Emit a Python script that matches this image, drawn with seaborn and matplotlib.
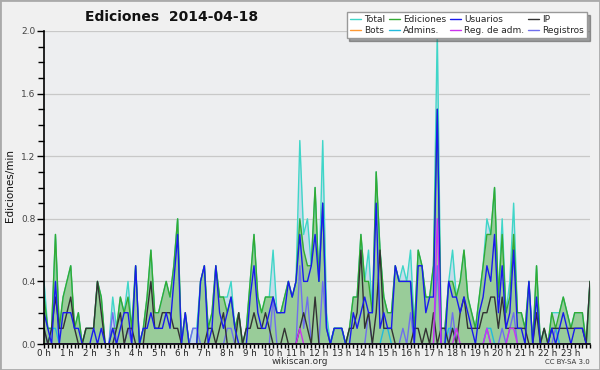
import numpy as np
import pandas as pd
import seaborn as sns
import matplotlib
matplotlib.use("Agg")
import matplotlib.pyplot as plt
from matplotlib.lines import Line2D
from matplotlib.patches import Rectangle
from matplotlib.ticker import MultipleLocator, FixedLocator, FormatStrFormatter

# edits per 10-minute bin, one row per hour (0 h ... 23 h)
total = [
    4, 1, 1, 7, 1, 3,   4, 5, 1, 2, 0, 1,   1, 1, 4, 3, 0, 0,   3, 1, 3, 2, 4, 1,
    5, 0, 1, 3, 6, 2,   2, 3, 4, 3, 5, 8,   0, 2, 0, 1, 1, 4,   5, 1, 2, 5, 3, 3,
    3, 4, 1, 2, 0, 1,   4, 7, 3, 2, 3, 3,   6, 2, 2, 3, 4, 3,   4, 13, 7, 8, 5, 10,
    4, 13, 2, 0, 1, 1,  1, 0, 1, 3, 3, 7,   4, 6, 2, 11, 6, 3,  2, 2, 5, 4, 5, 4,
    6, 1, 6, 5, 3, 3,   5, 20, 1, 1, 4, 6,  3, 4, 6, 3, 2, 1,   3, 5, 8, 7, 10, 3,
    8, 2, 4, 9, 2, 2,   1, 4, 0, 5, 0, 1,   0, 2, 2, 2, 3, 2,   1, 2, 2, 2, 0, 4,
]
ediciones = [
    3, 1, 1, 7, 1, 3,   4, 5, 1, 2, 0, 1,   1, 1, 4, 3, 0, 0,   1, 1, 3, 2, 3, 1,
    5, 0, 1, 3, 6, 2,   2, 3, 4, 3, 5, 8,   0, 2, 0, 0, 0, 4,   5, 1, 2, 5, 3, 3,
    2, 3, 1, 2, 0, 1,   4, 7, 3, 2, 3, 3,   3, 2, 2, 3, 4, 3,   4, 8, 6, 5, 5, 10,
    4, 9, 1, 0, 1, 1,   1, 0, 1, 3, 3, 7,   4, 4, 2, 11, 6, 3,  2, 2, 5, 4, 4, 4,
    4, 1, 6, 5, 3, 3,   5, 15, 1, 1, 4, 4,  3, 4, 6, 3, 2, 1,   3, 5, 7, 7, 10, 3,
    7, 2, 3, 7, 2, 2,   1, 4, 0, 5, 0, 1,   0, 2, 1, 2, 3, 2,   1, 2, 2, 2, 0, 4,
]
usuarios = [
    2, 1, 0, 4, 0, 2,   2, 2, 1, 1, 0, 0,   0, 1, 0, 1, 0, 0,   1, 0, 1, 2, 2, 0,
    5, 0, 1, 1, 2, 1,   1, 1, 2, 1, 4, 7,   0, 2, 0, 0, 0, 4,   5, 0, 1, 5, 2, 1,
    2, 3, 1, 0, 0, 0,   3, 5, 2, 1, 1, 2,   3, 2, 2, 2, 4, 3,   4, 7, 4, 4, 5, 7,
    4, 9, 1, 0, 1, 1,   1, 0, 0, 2, 1, 2,   3, 2, 2, 9, 1, 2,   1, 1, 5, 4, 4, 4,
    4, 0, 5, 5, 2, 3,   3, 15, 0, 0, 4, 3,  3, 2, 3, 2, 1, 0,   2, 3, 5, 4, 7, 2,
    5, 1, 2, 6, 1, 1,   0, 4, 0, 3, 0, 0,   0, 1, 0, 1, 2, 1,   0, 1, 1, 1, 0, 0,
]
ip = [
    1, 0, 1, 3, 1, 1,   2, 3, 1, 0, 0, 1,   1, 1, 4, 2, 0, 0,   0, 1, 2, 0, 1, 1,
    0, 0, 0, 2, 4, 1,   1, 2, 2, 2, 1, 1,   0, 0, 0, 0, 0, 0,   0, 1, 1, 0, 1, 2,
    0, 0, 0, 2, 0, 1,   1, 2, 1, 1, 2, 1,   0, 0, 0, 1, 0, 0,   0, 1, 2, 1, 0, 3,
    0, 0, 0, 0, 0, 0,   0, 0, 1, 1, 2, 6,   1, 2, 0, 2, 6, 1,   1, 1, 0, 0, 0, 0,
    0, 1, 1, 0, 1, 0,   2, 0, 1, 1, 0, 1,   0, 2, 3, 1, 1, 1,   1, 2, 2, 3, 3, 1,
    3, 1, 1, 1, 1, 1,   1, 0, 0, 2, 0, 1,   0, 1, 1, 1, 1, 1,   1, 1, 1, 1, 0, 4,
]
bots = [0] * 144
admins = [
    0, 0, 1, 1, 0, 0,   0, 0, 0, 0, 0, 0,   0, 0, 0, 0, 0, 0,   0, 0, 0, 0, 0, 0,
    0, 0, 0, 0, 0, 0,   0, 0, 0, 0, 0, 0,   0, 0, 0, 0, 0, 0,   0, 0, 0, 0, 0, 0,
    0, 0, 0, 0, 0, 0,   0, 0, 0, 0, 0, 0,   0, 0, 0, 0, 0, 0,   0, 0, 0, 0, 0, 0,
    0, 0, 0, 0, 1, 1,   1, 0, 0, 0, 0, 0,   0, 0, 0, 0, 0, 1,   1, 0, 0, 0, 0, 0,
    0, 0, 0, 0, 0, 0,   0, 0, 0, 0, 1, 1,   0, 0, 0, 0, 0, 0,   0, 0, 1, 1, 0, 0,
    0, 0, 0, 0, 0, 0,   0, 0, 0, 0, 0, 0,   0, 1, 1, 0, 0, 0,   0, 0, 0, 0, 0, 0,
]
reg_adm = [
    0, 0, 0, 0, 0, 0,   0, 0, 0, 0, 0, 0,   0, 0, 0, 0, 0, 0,   0, 0, 0, 0, 0, 0,
    0, 0, 0, 0, 0, 0,   0, 0, 0, 0, 0, 0,   0, 0, 0, 0, 0, 0,   0, 0, 0, 0, 0, 0,
    0, 0, 0, 0, 0, 0,   0, 0, 0, 0, 0, 0,   0, 0, 0, 0, 0, 0,   0, 1, 0, 0, 0, 0,
    0, 0, 0, 0, 0, 0,   0, 0, 0, 0, 0, 0,   0, 0, 0, 0, 0, 0,   0, 0, 0, 0, 0, 0,
    0, 0, 0, 0, 0, 0,   0, 8, 0, 0, 0, 0,   1, 0, 0, 0, 0, 0,   0, 0, 1, 0, 0, 0,
    0, 0, 1, 1, 0, 0,   0, 0, 0, 0, 0, 0,   0, 0, 0, 0, 0, 0,   0, 0, 0, 0, 0, 0,
]
registros = [
    1, 0, 0, 0, 0, 0,   0, 0, 0, 0, 0, 0,   0, 0, 0, 0, 0, 0,   2, 0, 0, 0, 1, 0,
    0, 0, 0, 0, 0, 0,   0, 0, 0, 0, 0, 0,   0, 0, 0, 1, 1, 0,   0, 0, 0, 0, 0, 0,
    1, 1, 0, 0, 0, 0,   0, 0, 0, 0, 0, 0,   3, 0, 0, 0, 0, 0,   0, 5, 1, 3, 0, 0,
    0, 4, 1, 0, 0, 0,   0, 0, 0, 0, 0, 0,   0, 2, 0, 0, 0, 0,   0, 0, 0, 0, 1, 0,
    2, 0, 0, 0, 0, 0,   0, 5, 0, 0, 0, 2,   0, 0, 0, 0, 0, 0,   0, 0, 1, 0, 0, 0,
    1, 0, 1, 2, 0, 0,   0, 0, 0, 0, 0, 0,   0, 0, 1, 0, 0, 0,   0, 0, 0, 0, 0, 0,
]

hour_labels = [f"{h} h" for h in range(24)]

colors = {
    "Total": "#3fd6c8",
    "Ediciones": "#33aa33",
    "Usuarios": "#1a1aee",
    "IP": "#333333",
    "Bots": "#ff9933",
    "Admins.": "#22bbdd",
    "Reg. de adm.": "#cc33ee",
    "Registros": "#6f6fee",
}

# edits per 10 min -> edits per minute
series = {
    "Bots": bots,
    "Total": total,
    "Registros": registros,
    "Admins.": admins,
    "Ediciones": ediciones,
    "IP": ip,
    "Usuarios": usuarios,
    "Reg. de adm.": reg_adm,
}
hora = np.arange(144) / 6
frames = []
for name, vals in series.items():
    frames.append(pd.DataFrame({"hora": hora, "valor": np.array(vals) / 10, "serie": name}))
df = pd.concat(frames, ignore_index=True)

sns.set_theme(style="ticks")
plt.rcParams["font.family"] = ["DejaVu Sans"]

fig = plt.figure(figsize=(6, 3.7), dpi=100, facecolor="#f0f0f0")
ax = fig.add_axes([44 / 600, 26 / 370, 546 / 600, 313 / 370])
ax.set_facecolor("#edeef0")

# filled areas
ax.fill_between(hora, np.array(total) / 10, color="#c6dcea", lw=0, zorder=1)
ax.fill_between(hora, np.array(ediciones) / 10, color="#99cc99", lw=0, zorder=1.1)

sns.lineplot(data=df, x="hora", y="valor", hue="serie", hue_order=list(series.keys()),
             palette=colors, estimator=None, sort=False, lw=1.0, legend=False, ax=ax)

ax.set_xlim(0, 143 / 6)
ax.set_ylim(0, 2.0)
ax.set_xlabel("")
ax.set_ylabel("")

ax.xaxis.set_major_locator(FixedLocator(range(24)))
ax.set_xticklabels(hour_labels)
ax.xaxis.set_minor_locator(MultipleLocator(1 / 6))
ax.yaxis.set_major_locator(MultipleLocator(0.4))
ax.yaxis.set_minor_locator(MultipleLocator(0.1))
ax.yaxis.set_major_formatter(FormatStrFormatter("%.1f"))

ax.tick_params(axis="both", which="both", direction="out", color="black", width=1)
ax.tick_params(axis="x", which="both", length=3, labelsize=6.3, pad=0.5, labelcolor="#222222")
ax.tick_params(axis="y", which="major", length=5, labelsize=6.5, pad=1, labelcolor="#444444")
ax.tick_params(axis="y", which="minor", length=4)

ax.grid(axis="y", which="major", color="#c8c8c8", lw=0.9)
ax.set_axisbelow(True)
for s in ["top", "right"]:
    ax.spines[s].set_visible(False)
for s in ["left", "bottom"]:
    ax.spines[s].set_color("black")
    ax.spines[s].set_linewidth(1.2)

# legend
order = ["Total", "Bots", "Ediciones", "Admins.", "Usuarios", "Reg. de adm.", "IP", "Registros"]
handles = [Line2D([0], [0], color=colors[n], lw=1) for n in order]
leg = ax.legend(handles, order, ncol=4, loc="upper right", bbox_to_anchor=(1.003, 1.075),
                fontsize=6.5, frameon=True, shadow=True, fancybox=False, facecolor="white",
                edgecolor="#999999", handlelength=1.2, handletextpad=0.35, columnspacing=0.45,
                labelspacing=0.2, borderpad=0.35, framealpha=1)
leg.set_zorder(10)

fig.text(85 / 600, 1 - 17 / 370, "Ediciones  2014-04-18", fontsize=10, fontweight="bold",
         va="center", ha="left", color="#111111")
fig.text(10 / 600, 0.5, "Ediciones/min", rotation=90, fontsize=7.5, va="center", ha="center",
         color="#111111")
fig.text(300 / 600, 1 - 362 / 370, "wikiscan.org", fontsize=6.5, ha="center", va="center",
         color="#333333")
fig.text(590 / 600, 1 - 362 / 370, "CC BY-SA 3.0", fontsize=5, ha="right", va="center",
         color="#333333")

fig.patches.append(Rectangle((0, 0), 1, 1, transform=fig.transFigure, fill=False,
                             edgecolor="#aaaaaa", lw=2))

fig.savefig("out.png", dpi=100, facecolor=fig.get_facecolor())
